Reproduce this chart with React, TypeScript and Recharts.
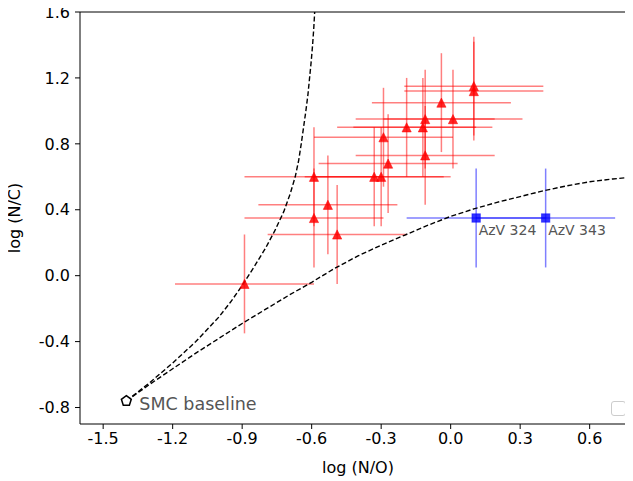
import { ErrorBar, ReferenceLine, Scatter, ScatterChart, XAxis, YAxis } from 'recharts';

// red triangles: log(N/O), log(N/C)
const RED_LOG_NO = [-0.59, -0.59, -0.53, -0.49, -0.89, -0.33, -0.3, -0.29, -0.27, -0.19, -0.12, -0.11, -0.11, -0.04, 0.01, 0.1, 0.1];
const RED_LOG_NC = [0.6, 0.35, 0.43, 0.25, -0.05, 0.6, 0.6, 0.84, 0.68, 0.9, 0.9, 0.95, 0.73, 1.05, 0.95, 1.15, 1.12];
const RED_ERR_NO = 0.3;
const RED_ERR_NC = 0.3;

// blue squares
const AZV_NAMES = ['AzV 324', 'AzV 343'];
const AZV_LOG_NO = [0.11, 0.41];
const AZV_LOG_NC = [0.35, 0.35];
const AZV_ERR = 0.3;

// SMC baseline
const BASE_LOG_NO = -1.4;
const BASE_LOG_NC = -0.76;

// dashed curves
const STEEP_X = [-1.4, -1.3, -1.2, -1.1, -1.0, -0.95, -0.9, -0.85, -0.8, -0.76, -0.72, -0.692, -0.671, -0.656, -0.645, -0.635, -0.625, -0.616, -0.609, -0.602, -0.596, -0.591, -0.587];
const STEEP_Y = [-0.76, -0.65, -0.53, -0.4, -0.25, -0.16, -0.06, 0.05, 0.165, 0.27, 0.39, 0.5, 0.6, 0.7, 0.8, 0.9, 1.0, 1.1, 1.2, 1.3, 1.4, 1.5, 1.6];
const FLAT_X = [-1.4, -1.3, -1.2, -1.1, -1.0, -0.9, -0.8, -0.7, -0.6, -0.5, -0.4, -0.3, -0.2, -0.1, 0.0, 0.1, 0.2, 0.3, 0.4, 0.5, 0.6, 0.7, 0.8];
const FLAT_Y = [-0.76, -0.66, -0.565, -0.47, -0.38, -0.29, -0.205, -0.12, -0.04, 0.045, 0.12, 0.185, 0.245, 0.305, 0.36, 0.405, 0.445, 0.48, 0.515, 0.545, 0.57, 0.587, 0.6];

const X_TICKS = [-1.5, -1.2, -0.9, -0.6, -0.3, 0.0, 0.3, 0.6];
const Y_TICKS = [-0.8, -0.4, 0.0, 0.4, 0.8, 1.2, 1.6];

const FONT = '"DejaVu Sans", sans-serif';

const redPoints = RED_LOG_NO.map((x, i) => ({ x, y: RED_LOG_NC[i], ex: RED_ERR_NO, ey: RED_ERR_NC }));
const azvPoints = AZV_LOG_NO.map((x, i) => ({ x, y: AZV_LOG_NC[i], ex: AZV_ERR, ey: AZV_ERR, name: AZV_NAMES[i] }));
const basePoint = [{ x: BASE_LOG_NO, y: BASE_LOG_NC, name: 'SMC baseline' }];
const steepCurve = STEEP_X.map((x, i) => ({ x, y: STEEP_Y[i] }));
const flatCurve = FLAT_X.map((x, i) => ({ x, y: FLAT_Y[i] }));

function Triangle(props: any) {
  const { cx, cy } = props;
  const r = 4.6;
  return (
    <polygon
      points={`${cx},${cy - r} ${cx - r},${cy + r} ${cx + r},${cy + r}`}
      fill="#ff0000"
      fillOpacity={0.85}
      stroke="#ff0000"
      strokeOpacity={0.5}
    />
  );
}

function Square(props: any) {
  const { cx, cy, payload } = props;
  const s = 4.2;
  return (
    <g>
      <rect x={cx - s} y={cy - s} width={2 * s} height={2 * s} fill="#0000ff" fillOpacity={0.8} stroke="#0000ff" strokeOpacity={0.5} />
      <text x={cx + 2.5} y={cy + 17} fill="#555" fontSize={14} fontFamily={FONT}>
        {payload.name}
      </text>
    </g>
  );
}

function Pentagon(props: any) {
  const { cx, cy, payload } = props;
  const r = 5.2;
  const pts = [0, 1, 2, 3, 4]
    .map((k) => {
      const a = ((-90 + 72 * k) * Math.PI) / 180;
      return `${cx + r * Math.cos(a)},${cy + r * Math.sin(a)}`;
    })
    .join(' ');
  return (
    <g>
      <polygon points={pts} fill="#fff" stroke="#000" strokeWidth={1.5} />
      <text x={cx + 13} y={cy + 9} fill="#555" fontSize={17.5} fontFamily={FONT}>
        {payload.name}
      </text>
    </g>
  );
}

// x-axis title drawn under the plot area
function XTitle(props: any) {
  const { viewBox } = props;
  const cx = viewBox.x + viewBox.width / 2;
  return (
    <text x={cx} y={473} textAnchor="middle" fill="#000" fontSize={16} fontFamily={FONT}>
      log (N/O)
    </text>
  );
}

const NoDot = () => <g />;

export default function App() {
  return (
    <div
      style={{
        position: 'relative',
        width: 633,
        height: 481,
        overflow: 'hidden',
        margin: '-8px 0 0 -8px',
        fontFamily: FONT,
      }}
    >
      <ScatterChart width={640} height={481} margin={{ top: 12, right: 4, bottom: 0, left: 0 }}>
        <XAxis
          type="number"
          dataKey="x"
          domain={[-1.6, 0.8]}
          ticks={X_TICKS}
          allowDataOverflow
          height={57}
          tickSize={5}
          tickMargin={4}
          tick={{ fill: '#000', fontSize: 16, fontFamily: FONT }}
          tickFormatter={(v: number) => v.toFixed(1)}
          axisLine={{ stroke: '#000' }}
          tickLine={{ stroke: '#000' }}
          label={<XTitle />}
        />
        <YAxis
          type="number"
          dataKey="y"
          domain={[-0.9, 1.6]}
          ticks={Y_TICKS}
          allowDataOverflow
          width={80}
          tickSize={5}
          tickMargin={5}
          tick={{ fill: '#000', fontSize: 16, fontFamily: FONT }}
          tickFormatter={(v: number) => v.toFixed(1)}
          axisLine={{ stroke: '#000' }}
          tickLine={{ stroke: '#000' }}
          label={{ value: 'log (N/C)', angle: -90, position: 'insideLeft', offset: 14, textAnchor: 'middle', fill: '#000', fontSize: 16, fontFamily: FONT }}
        />
        <ReferenceLine y={1.6} stroke="#000" />
        <ReferenceLine x={0.8} stroke="#000" />
        <Scatter
          data={steepCurve}
          fill="#000"
          line={{ stroke: '#000', strokeWidth: 1.4, strokeDasharray: '5 2.5' }}
          lineType="joint"
          shape={NoDot}
          isAnimationActive={false}
        />
        <Scatter
          data={flatCurve}
          fill="#000"
          line={{ stroke: '#000', strokeWidth: 1.4, strokeDasharray: '5 2.5' }}
          lineType="joint"
          shape={NoDot}
          isAnimationActive={false}
        />
        <Scatter data={redPoints} fill="#ff0000" shape={Triangle} isAnimationActive={false}>
          <ErrorBar dataKey="ex" direction="x" width={0} stroke="rgba(255,0,0,0.5)" strokeWidth={1.5} />
          <ErrorBar dataKey="ey" direction="y" width={0} stroke="rgba(255,0,0,0.5)" strokeWidth={1.5} />
        </Scatter>
        <Scatter data={azvPoints} fill="#0000ff" shape={Square} isAnimationActive={false}>
          <ErrorBar dataKey="ex" direction="x" width={0} stroke="rgba(0,0,255,0.5)" strokeWidth={1.5} />
          <ErrorBar dataKey="ey" direction="y" width={0} stroke="rgba(0,0,255,0.5)" strokeWidth={1.5} />
        </Scatter>
        <Scatter data={basePoint} fill="#000" shape={Pentagon} isAnimationActive={false} />
      </ScatterChart>
      <div
        style={{
          position: 'absolute',
          left: 611,
          top: 401,
          width: 13,
          height: 13,
          border: '1px solid #ccc',
          borderRadius: 3,
          background: '#fff',
        }}
      />
    </div>
  );
}
